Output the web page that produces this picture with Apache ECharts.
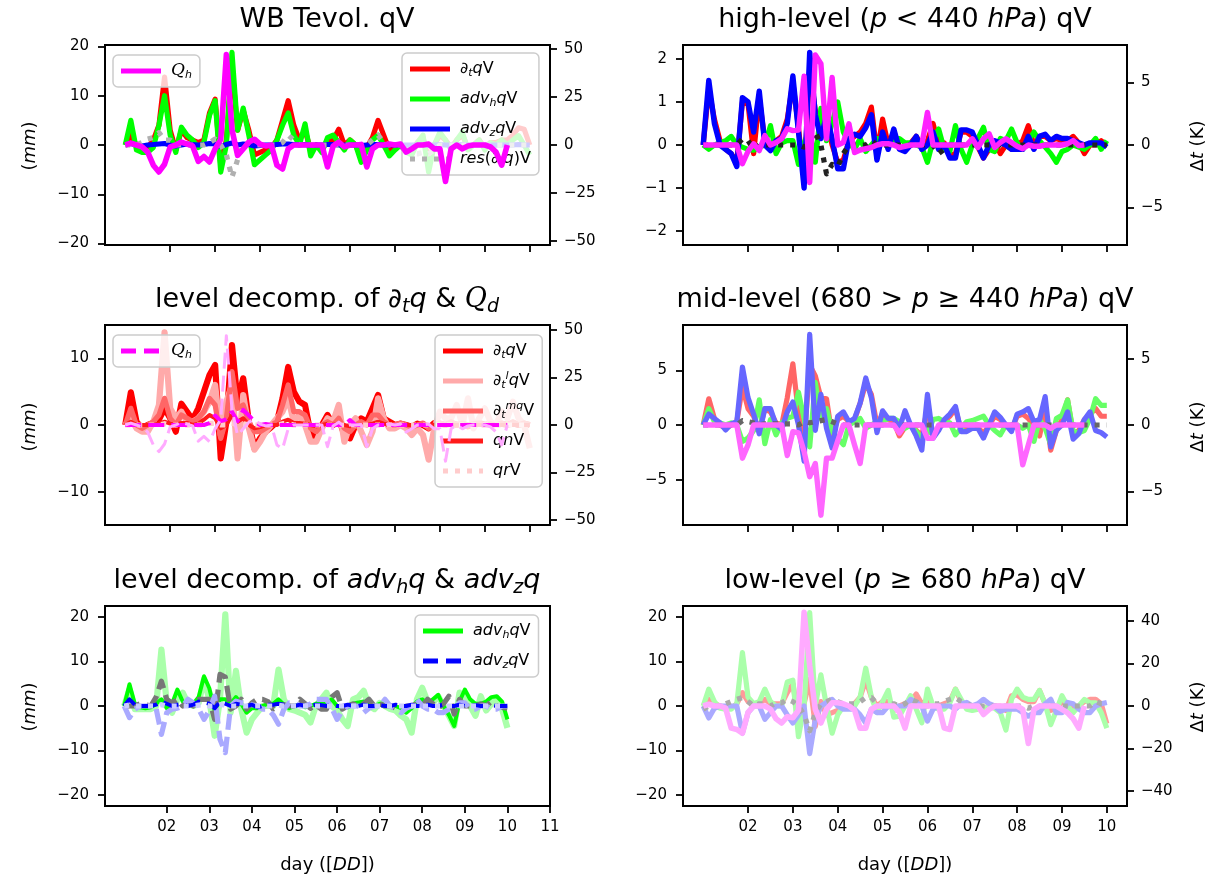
<!DOCTYPE html>
<html>
<head>
<meta charset="utf-8">
<script src="https://cdn.jsdelivr.net/npm/echarts@6/dist/echarts.min.js"></script>
<style>
  html, body { margin: 0; background: #fff; }
  #chart { width: 1228px; height: 883px; }
</style>
</head>
<body>
<div id="chart"></div>
<script>
// 3-hourly samples, day 1 00h .. day 10 00h
var days = [];
for (var i = 0; i <= 72; i++) days.push(1 + i / 8);

// ---- WB Tevol. qV (mm, left) / Q_h (right)
var aDtq = [0,2,0,-1,-0.5,1,4,13.8,3,-1, 3,1.5,1,0.5,1,6.5,9.3,-4,1,16, 3,7,3,-2,-1.5,-1,-0.5,1,5,9, 4,1,3,-1,0,-1,1,1,3.2,0, 1,0,-2.5,-0.5,1.5,5,2,-1,-0.5,0, -1,-1,0.5,1.5,-3,0,2,1,-0.5,1, 2,-0.5,0,1,-0.5,0.5,0.5,1,1,2, 3.5,3.2,0];
var aAdvh = [0,5,-1,-1.5,-1.5,-0.5,4,10,2,-1.5, 3.6,2,1,-0.5,0.5,6,9,-5.5,0,18.8, 3,7.5,2,-4,-3,-2,-1,1,4,6.5, 2,0,4.3,-2.2,0,-1.5,1.5,2,0.5,-1, 1,0,-3.5,-1,1,2,0,-2.2,-1,0, -1.5,-2,0.5,2,-5.5,0,2.6,1,-1,1, 2.6,-1,0,1,-1,0.5,0,1,0,1, 1.9,0,-2];
var aAdvz = [0,0.3,0,-0.2,0,0.1,0.2,0.3,0,-0.2, 0,0.2,0.1,0,0.1,0.3,0.2,-0.3,0.1,0.4, 0,0.2,0.1,-0.2,-0.1,0,0,0.1,0.2,0.2, 0.1,0,0.1,-0.1,0,0,0.1,0.1,0,0, 0,0,-0.1,0,0.1,0.1,0,0,0,0, 0,0,0,0.1,-0.1,0,0.1,0,0,0, 0.1,0,0,0,0,0,0,0,0,0, 0.1,0,0];
var aRes = [0,0,0,0.5,1.2,1.5,2.5,1,1,0, 0,0,0,0,0,0.5,1.2,0,-2,-6.5, -3,0,0.5,0,0,0,0,0,0.5,2, 1,0,0,0,0,0,0,0,0,0, 0,0,0,0,1,2,0.5,0,0,0, 0,-1.8,-1.8,-1.5,-1.8,-1,0,0,0,0, 0,0,0,0,0,0,0,0,0,0, 0,0,0];
var qhTotal = [0,1,0,-1,-3.7,-10.5,-14,-10,-1,0, 1.5,0.5,-0.5,-8.5,-6,-8.8,-2,3,47,8, -5.4,-2,1.5,3,0.5,-0.5,0,-10.5,-12.5,-2, 0,0,0,0,0,0,-11.4,-0.5,1.5,-1, 0,0,0.3,-11.4,-2,0,0,0.5,0,0.5, -3.7,-2,0,0,0.5,-2,-2,-19,-2,0, -2,-0.5,0,0,0,-1,-3.7,-10.5,0];

// ---- high-level (mm, left) / Q_h (K, right)
var bDtq = [0,1.3,0.6,0.1,-0.1,-0.2,-0.4,1.0,0.95,-0.2, 1.1,0.1,-0.1,0.1,0.2,0.6,1.45,0.4,-0.8,1.8, 0.8,0.3,0.6,0,-0.4,-0.35,0.1,0.2,0.3,0.5, 0.88,-0.2,0.6,0,0.3,-0.05,-0.1,0.05,0.2,0, 0.1,0.5,0,0.05,-0.25,-0.2,0.3,0.3,0.2,-0.05, -0.3,-0.1,0.05,-0.2,0,-0.1,0,0.1,0.45,0, 0.2,0.2,0.1,0.15,0.1,0.1,0.2,0.05,-0.2,0, 0,0.1,0];
var bAdvh = [0,-0.1,0,0.05,0.1,0.2,0,-0.05,-0.1,-0.12, -0.05,0,0.45,-0.2,0.05,0.1,0.1,-0.45,0.05,0.35, -0.4,0.85,0.1,0.5,1.0,0.3,0.05,-0.1,0.15,-0.15, 0,0.15,0.1,0.05,0.1,0.15,0.05,0.05,0,-0.05, -0.4,0.1,0.37,-0.1,-0.15,0.45,-0.1,-0.4,0,0.15, 0.41,-0.1,-0.15,0.15,0.1,0.37,0.05,-0.1,0.1,0.3, 0.1,-0.05,-0.2,-0.4,-0.15,-0.1,0,-0.05,-0.1,0, 0.15,-0.1,0.1];
var bAdvz = [0,1.5,0.5,0,-0.1,-0.2,-0.5,1.1,1.0,0.3, 1.25,0,-0.13,0.1,0.15,0.5,1.6,0.3,-1.0,2.15, 0.7,0.15,0.7,0.15,-0.55,-0.55,0.15,0.25,0.2,0.4, 0.7,-0.35,0.3,-0.1,0.37,-0.1,-0.15,0,0.2,-0.1, 0,0.3,-0.1,0,-0.3,-0.3,0.35,0.35,0.3,0, -0.3,0,0.1,0.05,0,-0.1,-0.1,-0.1,0.2,-0.1, 0.2,0.25,0.1,0.2,0.15,0.15,0.1,0.05,0,0.05, 0.05,0.05,-0.05];
var bRes = [0,0,0,0,0,0,0,0.14,0.1,-0.1, 0,0,0,0,0,0,0,0,-0.05,0.1, 0.3,0,-0.67,-0.45,-0.5,-0.2,0,0,0,0, 0.1,0,0,0,0,0,0,0,0,0, 0,0,-0.2,-0.1,0,0,0,0,0,0, 0,0,0,0,0,0,0,0,0,0, 0,0,0,0,0,0,0,0,0,0, 0,0,0];
var bQh = [0,0,0,0,0,0,0,-1.5,-0.5,0.1, -0.45,0.75,0,0.2,0.5,1.3,1.15,1.2,5.5,-3.0, 7.2,6.5,0.5,5.4,0,0.2,1.7,-0.6,-0.4,-0.3, -0.2,0,0.1,0.1,0,-0.2,-0.1,0,0,0, 2.6,0,0,0,0,0,0,0,0.5,-0.2, 0.5,0.9,-0.2,0.2,0.5,0.2,-0.1,-0.3,0,-0.1, -0.1,0,0,0,0,0.1,0.35,-0.05,0];

// ---- level decomposition of dq/dt (mm, left) / Q (right)
var cDtq = [0,4.9,0.5,-0.5,0,0.3,0.8,2.5,1,-1, 3.2,2,0.8,2.5,5,7.5,9,-5,0.5,12, 3.5,7,0.5,-3.5,-2,-1,-0.3,0.5,4,8.7, 5,3.5,3,-1.3,-2,0,1.5,0,1,-1.5, -2,0,1,0.5,2.5,4.5,1,0.5,0,0.2, 0,-0.3,0.2,0,-0.5,0.3,0.2,0,0.3,0, 0.2,-0.2,0,0.3,0,0.2,0,0.2,0,0.3, 0,0.2,0];
var cDtl = [0,1,-0.5,-1,-1,0.5,3,13.9,2.5,1, 2,0.5,0.5,1,2,3.5,6,-1.5,3.5,6, -5,4.5,-0.5,-3.7,-2.5,-1,0,1,2,4, 0.5,1.5,0,-2.5,-2.5,-0.5,1,0.5,3,-2.5, 0,1,-1,-3,-1,4,1,-0.5,-0.5,0, -0.5,-1.5,-0.5,-1.5,-5.2,-0.5,2,1,1,3, 0,4,-0.5,1,2.5,0.5,0,2,1,3.5, 1,0,-3.5];
var cDtmq = [0,2.5,0,-0.5,0,0.5,1.5,4,1,0, 1.5,1,0.5,1,2,4,3,-2,1,8, 2.5,3,0.5,-1,-1,-0.5,0,0.5,3,6, 2,2,1.5,-0.5,-1,0,0.5,0,1,-0.5, -1,0,0.5,0,1.5,1.5,0.5,0,0,0.3, 0,-0.3,0,0.3,-0.5,0,0.3,0,0.5,0, 0.3,0,0.2,0.3,0,0.2,0,0.3,0,0.5, 0,0.3,0];
var cQn = [0,0.5,0,0,0,0,0.2,0.5,0.2,0, 0.3,0.3,0,0.2,0.8,1.5,1,-0.5,0,1.5, 0.5,1,0,-0.5,-0.3,0,0,0,0.5,0.8, 0.3,0.3,0.2,0,-0.2,0,0.2,0,0.2,0, -0.2,0,0,0,0.2,0.5,0.2,0,0,0, 0,0,0,0,0,0,0,0,0,0, 0,0,0,0,0,0,0,0,0,0, 0,0,0];
var cQr = [0,0,0,0,0,0,0,0.2,0,0, 0,0,0,0,0,0.2,0.3,0,0,0.3, 0,0.2,0,0,0,0,0,0,0.2,0.2, 0,0,0,0,0,0,0,0,0,0, 0,0,0,0,0,0,0,0,0,0, 0,0,0,0,0,0,0,0,0,0, 0,0,0,0,0,0,0,0,0,0, 0,0,0];
var cQh = [0,0,0,0,0,0,0,0,0,0, 0,0,0,0,0,1,5,2,3,7, 2,8,5,2,0,0.5,0,0,0,0, 0,0,0,0,0,0,0,0,0,0, 2.6,0,0,0,0,0,0,0,0,0, 0,0,0,0,0,0,0,0,0,0, 0,0,0,0,0,0,0,0,0];

// ---- mid-level (mm, left) / Q_h (K, right)
var dDtq = [0,2.4,0.6,0,-0.3,0,0.3,3.5,1.5,0.8, -0.5,1.5,1.2,0.2,0,2.5,5.6,1,-1.5,5.5, 4.5,2.5,2.4,-1,0.5,0.8,0.3,0.5,2,3.8, 2.8,0,1,0.5,0.3,-1,-0.2,0,-0.5,-1, 1.5,-0.8,-0.3,0.3,0.8,1.5,-0.5,-0.4,-0.2,-0.2, -0.8,0,0.8,0.5,0,-0.4,0.8,1,0.6,0, -1,1.5,-2.3,-0.5,0.5,2.3,-0.8,-0.5,0.5,1, 1.5,0.8,0.8];
var dAdvh = [0,1.5,0.3,0.2,0,0.2,0,-1.5,-1.2,-0.5, 2.3,-1.7,0.5,-0.9,0.2,0.6,0.8,3,0.6,-2, 3.9,0.6,1.5,-0.6,-1.2,-1.8,0,0.3,0.6,-0.3, 0,0.3,0.3,0.6,0.6,0.3,-0.3,0,-0.6,-1.2, -0.8,0.5,0.6,0.3,0.2,-0.9,-0.3,0.3,0.4,0.6, 0.8,0,-0.5,-0.9,0,0,0,-0.3,0,-1.5, 0.5,-0.3,-1.8,0.6,0.9,2.3,-0.6,-0.7,-0.5,0.6, 2.4,1.8,1.8];
var dAdvz = [0,1.0,0.6,0.2,-0.45,0.1,0.3,5.3,2.5,1, -0.8,1.5,1.5,0,-0.4,1.2,2.1,0,-3.3,8.3, -0.5,2.8,-0.3,-2.1,0.8,1.2,0.3,0.6,2,4.3, 2.5,-0.7,1.3,0.6,0.6,-0.3,1.3,0,-1,-2.3, 2.8,-1.2,-0.5,0.5,1,1.7,-0.6,-0.6,-0.3,-0.3, -1.2,0,1.2,0.7,0,-0.6,1,1.2,1.5,0.3, 0.5,2.6,-2.0,-0.5,0,1.2,-1.3,-0.8,0.5,1.2, -0.5,-0.7,-1.1];
var dRes = [0,0,0,0,0,0,0,0.4,0.3,0.2, 0,0.1,0.1,0.1,0.1,0.1,0.1,0,0.3,0.2, 0.3,0.4,0.5,0.3,0.1,0,0,0,0,0, 0,0,0,0,0,0,0,0,0,0, 0,0,0,0,0,0,0,0,0,0, 0,0,0,0,0,0,0,0,0,0, 0,0,0,0,0,0,0,0,0,0, 0,0,0];
var dQh = [0,0,0,0,0,0,0,-2.5,-1.5,0, 0,0,0,0,0,-2.3,-0.5,-0.6,-2.0,-3.9, -2.9,-6.8,-2.5,-2.5,-1.2,0,0,-1.5,-2.9,0, 0,0,0,0,0,-0.6,0,0,0,0, -1,-1,0,0,0,0,0,0,0,0, 0,0,0,0,0,0,0,-3,-1.5,0, 0,0,-0.25,0,0,0,0,0,0];

// ---- level decomposition of advection (mm)
var eAdvhL = [0,3.7,-0.7,-0.7,-0.7,-0.7,0,12.7,0.7,-1.5, 1.5,3,0.5,0,0.7,6,1.5,-6.7,1.5,20.6, -1.5,7.9,-0.7,-6,-3,-1.5,0,0,0,8.2, 1.5,-0.7,-1,-1.5,-2,-3.7,0,1.5,3,0, -1,-3,-4.5,1.5,2,3.4,0,-0.7,0.7,0, -0.7,-1,-2.2,-3,-6,1.5,4.1,1,0.7,2.2, 0,-2.2,-4.5,3,2,0,-2.2,2.2,-1,0.5, 1.5,-0.7,-4.9];
var eAdvh = [0,4.9,0.5,-0.3,-0.5,-0.3,0.5,1.5,-0.5,0.5, 3.7,1,0.5,0.5,2,6.7,4,-1,1.5,1.5, 0.5,2,0.5,-1.5,-0.5,-0.5,0,0.5,0.5,1.5, 0.3,-0.5,0,0.3,-0.3,0,0.5,1,0.5,1.5, 0,-0.5,-0.3,0.5,0.8,1,0,0,0.5,0.5, 0,0,-0.5,-1.5,-0.5,1,1.5,0.5,1.5,2.5, 0,-2,-4.5,1,3.7,1.5,0.5,0.5,1,2, 2.2,1,-3];
var eGrey = [0,0,0,0.5,0.3,0,2,5.6,1.5,0.7, 1.5,0,0.7,0,1.5,1.5,1.5,-3,7.1,6.5, -0.7,0,1.5,-0.7,0.7,1.5,1.5,1,-0.7,0, 0.3,0,0,1.5,0.5,-0.5,0.3,-0.7,-0.7,2, 3,-0.7,0,0.5,0,0.5,1.5,0,0.5,0, 0,-0.5,-0.7,0,0,0.5,0,1.5,0.5,-0.5, 0.5,2.2,-1.8,1.5,0,0,0,0.5,0,1, 0,-0.3,-0.5];
var eAdvz = [0,1.5,0.3,0,0,0,0.3,1,0.5,0, 0.3,0.5,0,0.3,1,0.8,0.5,-0.5,1,0.5, 0,0.5,0.3,0,0.3,-0.3,0,0.3,0.3,0.5, 0.3,0,0,0.3,0,0,0.3,0.2,0,0.3, 0,0,0.3,0,0,0.3,0,0,0.2,0, 0,0.3,0,0,0.3,0,0,0.3,0,0, 0.3,0,0,0.3,0,0,0.2,0,0,0.3, 0,0,0];
var eAdvzL = [0,-2.6,-0.7,0,0,0,-0.5,-6.4,-1.5,-0.7, -0.5,0,1.5,0.7,-0.7,-3,-1,2.2,-7.5,-10.5, 0,1.1,0.7,0.7,0.3,0,-0.7,-0.7,-2,-4.1, -0.7,0.7,0.7,0,0,0.5,1.5,1.5,1.5,-0.5, -3,-1,0,0,0,-1.5,-0.5,0,0,1.5, 0,-0.7,-1.5,-0.5,0,1.5,0,-0.7,-0.7,-1.5, -1.5,-0.7,-0.7,0.7,0.7,-0.7,-0.7,0,0,-0.7, -0.7,0,0];
var eLav = [0,0.2,0,0,0,0,0,0.3,0,0, 0,0,0,0,0.2,0.3,0,0,0.3,0.2, 0,0,0,0,0,0,0,0,0,0.2, 0,0,0,0,0,0,0,0,0,0, 0,0,0,0,0,0,0,0,0,0, 0,0,0,0,0,0,0,0,0,0, 0,0,0,0,0,0,0,0,0,0, 0,0,0];

// ---- low-level (mm, left) / Q_h (K, right)
var fDtq = [0,1.5,0.5,0,-0.5,-0.5,0.5,3,1,0, 0.5,1.5,0.5,0.5,0.5,3,5,-3,0.5,6, -4.6,1,-2,-1.5,-1,0,0,0.5,2,5.8, 2,0,1,1,-1,0,0.5,1,2.7,0.5, 1,0,0,0.5,1,3.8,1,0,0,-0.3, -0.5,0,0,0,-1,2.3,2.5,1.5,1,1, 3.5,0.5,-1,-0.5,1,0,-0.8,0,1,1.5, 1.5,0.5,-4];
var fAdvh = [0,3.8,1,-0.5,-0.7,-0.7,0.5,12,2,0.5, 1,3.8,1,0,0,5.4,5.8,-6.9,0,21, 0,7,0,-6.1,-2,0,0,0,2,8.5, 2,-1.5,1,3.5,-2.5,-2.3,0,2.3,-0.7,-3.8, 3.8,0,-0.7,-0.7,0.7,3.8,1.5,-0.7,-1,-0.7, -0.7,0,-0.5,-1.5,-5.4,1.5,3.8,2,1.5,1.5, 3.5,0.5,-4.2,-1,2.3,0,-1.5,0,1.5,0.7, 0.7,-1.5,-5];
var fAdvz = [0,-2.7,-0.5,0,0,0,0,-6.1,-1.5,0, 0,-3,-1.5,0,0,-2,-3.8,-2,0,-10.7, -3,0,0.8,1.5,0,-0.7,-0.7,-0.7,-2,-3.8, -0.7,-1.5,-1.5,0,0,0,0,1.5,0.8,0, -3.4,-0.7,0,0,0,-0.7,0.5,0.8,0,0.5, 1.5,0.5,0,-1.2,-0.7,-0.7,-0.7,-1.5,-2.3,-1.5, -1.5,0.5,1.5,-1.5,-1.5,0.8,0.5,-0.7,-1.5,-1.5, 0,0.5,0.8];
var fRes = [-0.7,0,0,0,0.5,1,1.5,1.9,1,0, 0.5,0.5,0,0.7,0.7,1.5,1,0,-2,-5.6, -1.5,0.5,1,1.5,1,0.5,0.5,0.5,1,1.9, 1.9,0.5,0,0.5,0.5,0,0.5,1.5,1,0, 0,0.5,0.5,1,1.5,1.9,1,0.5,0,0, 0,0,0,0,0,0,0,0,-0.5,0, 0,0,0,0,0,0,0,0,0,0, 1,0.5,0.5];
var fQh = [0,0.8,0,0,-1,-10.4,-11,-12.8,-3,0, 0,0,-1.5,-6,-8,-5,-5.5,-2,44,19, -1.6,-8,-1.6,1.5,1.5,1,0,-2,-10.4,-10.4, -1.6,0,0,0,0,-3,-10.4,0,0,0, 0,0,0,-10.4,-11,0,0,0,0,0, -4,-1.6,0,0,0,0,0,-1.6,-17.6,-1.6, 0,0,0,0,-1.6,-3.2,-6,-10.4,0];

// tick positions
var dayTicks = [2, 3, 4, 5, 6, 7, 8, 9, 10];
var dayTicksE = [2, 3, 4, 5, 6, 7, 8, 9, 10, 11];

var FONT = 'DejaVu Sans';
var DOT = [5, 7];
var DASH = [16, 7];
var LW = 5.2;

// legend line samples (40 x 5 box)
var ICON_SOLID = 'path://M0,0H40V5H0Z';
var ICON_DOT = 'path://M0,0H5V5H0Z M12,0H17V5H12Z M24,0H29V5H24Z M36,0H40V5H36Z';
var ICON_DASH = 'path://M0,0H15V5H0Z M23,0H38V5H23Z M40,0H40.01V5H40Z';

var chart = echarts.init(document.getElementById('chart'), null, { renderer: 'canvas' });

function fmtY(v) { return v < 0 ? '\u2212' + Math.abs(v) : String(v); }

var NAME_RICH = {
  i: { fontStyle: 'italic', fontSize: 18, fontFamily: FONT }
};

function xAxis(gi, max, ticks, labels) {
  return {
    type: 'value', gridIndex: gi, min: 0.55, max: max,
    axisLine: { show: false, onZero: false },
    axisTick: { show: true, length: 7, lineStyle: { color: '#000', width: 1.8 }, customValues: ticks },
    axisLabel: { show: labels, customValues: ticks, fontSize: 15, color: '#000', fontFamily: FONT, margin: 14,
      formatter: function (v) { return (v < 10 ? '0' : '') + v; } },
    splitLine: { show: false },
    name: labels ? 'day ([{i|DD}])' : '', nameLocation: 'middle', nameGap: 50,
    nameTextStyle: { fontSize: 18, color: '#000', fontFamily: FONT, rich: NAME_RICH }
  };
}

function yAxis(gi, pos, lim, ticks) {
  return {
    type: 'value', gridIndex: gi, position: pos, min: -lim, max: lim,
    axisLine: { show: false, onZero: false },
    axisTick: { show: true, length: 7, lineStyle: { color: '#000', width: 1.8 }, customValues: ticks },
    axisLabel: { show: true, customValues: ticks, fontSize: 15, color: '#000', fontFamily: FONT,
      margin: pos === 'left' ? 16 : 14, formatter: fmtY },
    splitLine: { show: false }
  };
}

function S(name, vals, xi, yi, color, width, dash, z) {
  return {
    name: name, type: 'line', xAxisIndex: xi, yAxisIndex: yi,
    data: vals.map(function (v, k) { return [days[k], v]; }),
    symbol: 'none', showSymbol: false, animation: false, z: z || 2,
    lineStyle: { color: color, width: width, type: dash || 'solid', join: 'round', cap: 'butt' },
    itemStyle: { color: color },
    emphasis: { disabled: true }
  };
}

var LABELS = {
  A_qh: '{c|Q}{sb|h}',
  A_dtq: '{i|∂}{sb|t}{i|q}V',
  A_advh: '{i|adv}{sb|h}{i|q}V',
  A_advz: '{i|adv}{sb|z}{i|q}V',
  A_res: '{i|res}({i|∂}{sb|t}{i|q})V',
  C_qh: '{c|Q}{sb|h}',
  C_dtq: '{i|∂}{sb|t}{i|q}V',
  C_dtl: '{i|∂}{sb|t}{sp|l}{i|q}V',
  C_dtmq: '{i|∂}{sb|t}{sp|mq}V',
  C_qn: '{i|qn}V',
  C_qr: '{i|qr}V',
  E_advh: '{i|adv}{sb|h}{i|q}V',
  E_advz: '{i|adv}{sb|z}{i|q}V'
};

var LEG_RICH = {
  i: { fontStyle: 'italic', fontSize: 16, fontFamily: FONT, lineHeight: 20 },
  c: { fontStyle: 'italic', fontSize: 17, fontFamily: 'DejaVu Serif', lineHeight: 20 },
  sb: { fontStyle: 'italic', fontSize: 11, fontFamily: FONT, verticalAlign: 'bottom', lineHeight: 12 },
  sp: { fontStyle: 'italic', fontSize: 11, fontFamily: FONT, verticalAlign: 'top', lineHeight: 12 }
};

function legend(items, left, top) {
  return {
    data: items.map(function (it) { return { name: it[0], icon: it[1] }; }),
    left: left, top: top, orient: 'vertical',
    padding: [6, 8, 6, 8], itemGap: 10, itemWidth: 40, itemHeight: 5,
    borderColor: '#cccccc', borderWidth: 1.5, borderRadius: 5,
    backgroundColor: 'rgba(255,255,255,0.8)', selectedMode: false,
    textStyle: { fontSize: 16, color: '#000', fontFamily: FONT, lineHeight: 20, rich: LEG_RICH, padding: [0, 0, 0, 5] },
    formatter: function (n) { return LABELS[n]; }
  };
}

var TITLE_RICH = {
  i: { fontStyle: 'italic', fontSize: 27, fontFamily: FONT, lineHeight: 34 },
  c: { fontStyle: 'italic', fontSize: 27, fontFamily: 'DejaVu Serif', lineHeight: 34 },
  sb: { fontStyle: 'italic', fontSize: 19, fontFamily: FONT, verticalAlign: 'bottom', lineHeight: 20 }
};

var TITLES = [
  { x: 327, y: 3, text: 'WB Tevol. qV' },
  { x: 905, y: 3, text: 'high-level ({i|p} < 440 {i|hPa}) qV' },
  { x: 327, y: 283, text: 'level decomp. of {i|∂}{sb|t}{i|q} & {c|Q}{sb|d}' },
  { x: 905, y: 283, text: 'mid-level (680 > {i|p} ≥ 440 {i|hPa}) qV' },
  { x: 327, y: 564, text: 'level decomp. of {i|adv}{sb|h}{i|q} & {i|adv}{sb|z}{i|q}' },
  { x: 905, y: 564, text: 'low-level ({i|p} ≥ 680 {i|hPa}) qV' }
];

// rotated axis names
var YNAMES = [
  { x: 30, y: 146, text: '({i|mm})' },
  { x: 30, y: 427, text: '({i|mm})' },
  { x: 30, y: 707, text: '({i|mm})' },
  { x: 1198, y: 146, text: 'Δ{i|t} (K)' },
  { x: 1198, y: 427, text: 'Δ{i|t} (K)' },
  { x: 1198, y: 707, text: 'Δ{i|t} (K)' }
];

var gridBase = { show: true, borderColor: '#000', borderWidth: 2, backgroundColor: 'transparent' };
var grids = [
  { left: 105, top: 45, width: 445, height: 200 },
  { left: 683, top: 45, width: 444, height: 200 },
  { left: 105, top: 325, width: 445, height: 200 },
  { left: 683, top: 325, width: 444, height: 200 },
  { left: 105, top: 606, width: 445, height: 200 },
  { left: 683, top: 606, width: 444, height: 200 }
].map(function (g) { return Object.assign({}, gridBase, g); });

var graphics = TITLES.map(function (t) {
  return {
    type: 'text', x: t.x, y: t.y, silent: true,
    style: { text: t.text, rich: TITLE_RICH, fill: '#000', fontSize: 27, fontFamily: FONT,
      lineHeight: 34, align: 'center', verticalAlign: 'top' }
  };
}).concat(YNAMES.map(function (t) {
  return {
    type: 'text', x: t.x, y: t.y, rotation: Math.PI / 2, silent: true,
    style: { text: t.text, rich: NAME_RICH, fill: '#000', fontSize: 18, fontFamily: FONT,
      align: 'center', verticalAlign: 'middle' }
  };
}));

var option = {
  animation: false,
  backgroundColor: '#fff',
  textStyle: { fontFamily: FONT },
  grid: grids,
  xAxis: [
    xAxis(0, 10.45, dayTicks, false),
    xAxis(1, 10.45, dayTicks, false),
    xAxis(2, 10.45, dayTicks, false),
    xAxis(3, 10.45, dayTicks, false),
    xAxis(4, 11, dayTicksE, true),
    xAxis(5, 10.45, dayTicks, true)
  ],
  yAxis: [
    yAxis(0, 'left', 20.3, [-20, -10, 0, 10, 20]),
    yAxis(0, 'right', 52, [-50, -25, 0, 25, 50]),
    yAxis(1, 'left', 2.32, [-2, -1, 0, 1, 2]),
    yAxis(1, 'right', 8.0, [-5, 0, 5]),
    yAxis(2, 'left', 15, [-10, 0, 10]),
    yAxis(2, 'right', 52.6, [-50, -25, 0, 25, 50]),
    yAxis(3, 'left', 9.15, [-5, 0, 5]),
    yAxis(3, 'right', 7.54, [-5, 0, 5]),
    yAxis(4, 'left', 22.5, [-20, -10, 0, 10, 20]),
    yAxis(5, 'left', 22.5, [-20, -10, 0, 10, 20]),
    yAxis(5, 'right', 47, [-40, -20, 0, 20, 40])
  ],
  legend: [
    legend([['A_qh', ICON_SOLID]], 113, 55),
    legend([['A_dtq', ICON_SOLID], ['A_advh', ICON_SOLID], ['A_advz', ICON_SOLID], ['A_res', ICON_DOT]], 402, 53),
    legend([['C_qh', ICON_DASH]], 113, 335),
    legend([['C_dtq', ICON_SOLID], ['C_dtl', ICON_SOLID], ['C_dtmq', ICON_SOLID], ['C_qn', ICON_SOLID], ['C_qr', ICON_DOT]], 435, 335),
    legend([['E_advh', ICON_SOLID], ['E_advz', ICON_DASH]], 415, 615)
  ],
  graphic: graphics,
  series: [
    // WB Tevol
    S('A_dtq', aDtq, 0, 0, '#ff0000', LW),
    S('A_advh', aAdvh, 0, 0, '#00ff00', LW),
    S('A_advz', aAdvz, 0, 0, '#0000ff', LW),
    S('A_res', aRes, 0, 0, '#b0b0b0', LW, DOT),
    S('A_qh', qhTotal, 0, 1, '#ff00ff', 5.6, null, 5),
    // high-level
    S('B_dtq', bDtq, 1, 2, '#ff0000', LW),
    S('B_advh', bAdvh, 1, 2, '#00ff00', LW),
    S('B_advz', bAdvz, 1, 2, '#0000ff', 5.4),
    S('B_res', bRes, 1, 2, '#222222', LW, DOT),
    S('B_qh', bQh, 1, 3, '#ff22ff', 5.4),
    // level decomp dq/dt
    S('C_dtq', cDtq, 2, 4, '#ff0000', 6.2),
    S('C_dtl', cDtl, 2, 4, '#ffaaaa', 6.2),
    S('C_dtmq', cDtmq, 2, 4, '#ff6666', LW),
    S('C_qn', cQn, 2, 4, '#ff1a1a', 4),
    S('C_qr', cQr, 2, 4, '#ffcccc', LW, DOT),
    S('C_qh', cQh, 2, 5, '#ff00ff', 4, DASH, 5),
    S('C_qht', qhTotal, 2, 5, '#ffaaff', 3, DASH, 5),
    // mid-level
    S('D_dtq', dDtq, 3, 6, '#ff6666', LW),
    S('D_advh', dAdvh, 3, 6, '#66ff66', LW),
    S('D_advz', dAdvz, 3, 6, '#6666ff', LW),
    S('D_res', dRes, 3, 6, '#666666', LW, DOT),
    S('D_qh', dQh, 3, 7, '#ff66ff', 5.4),
    // level decomp advection
    S('E_advhL', eAdvhL, 4, 8, '#aaffaa', 6.2),
    S('E_advh', eAdvh, 4, 8, '#00ff00', 4),
    S('E_grey', eGrey, 4, 8, '#777777', LW, DASH),
    S('E_advzL', eAdvzL, 4, 8, '#aaaaff', LW, DASH),
    S('E_advz', eAdvz, 4, 8, '#0000ff', 4, DASH),
    S('E_lav', eLav, 4, 8, '#ccccff', LW, DOT),
    // low-level
    S('F_dtq', fDtq, 5, 9, '#ff9999', LW),
    S('F_advh', fAdvh, 5, 9, '#aaffaa', LW),
    S('F_advz', fAdvz, 5, 9, '#aaaaff', LW),
    S('F_res', fRes, 5, 9, '#aaaaaa', LW, DOT),
    S('F_qh', fQh, 5, 10, '#ffaaff', 5.6)
  ]
};

chart.setOption(option);
</script>
</body>
</html>
